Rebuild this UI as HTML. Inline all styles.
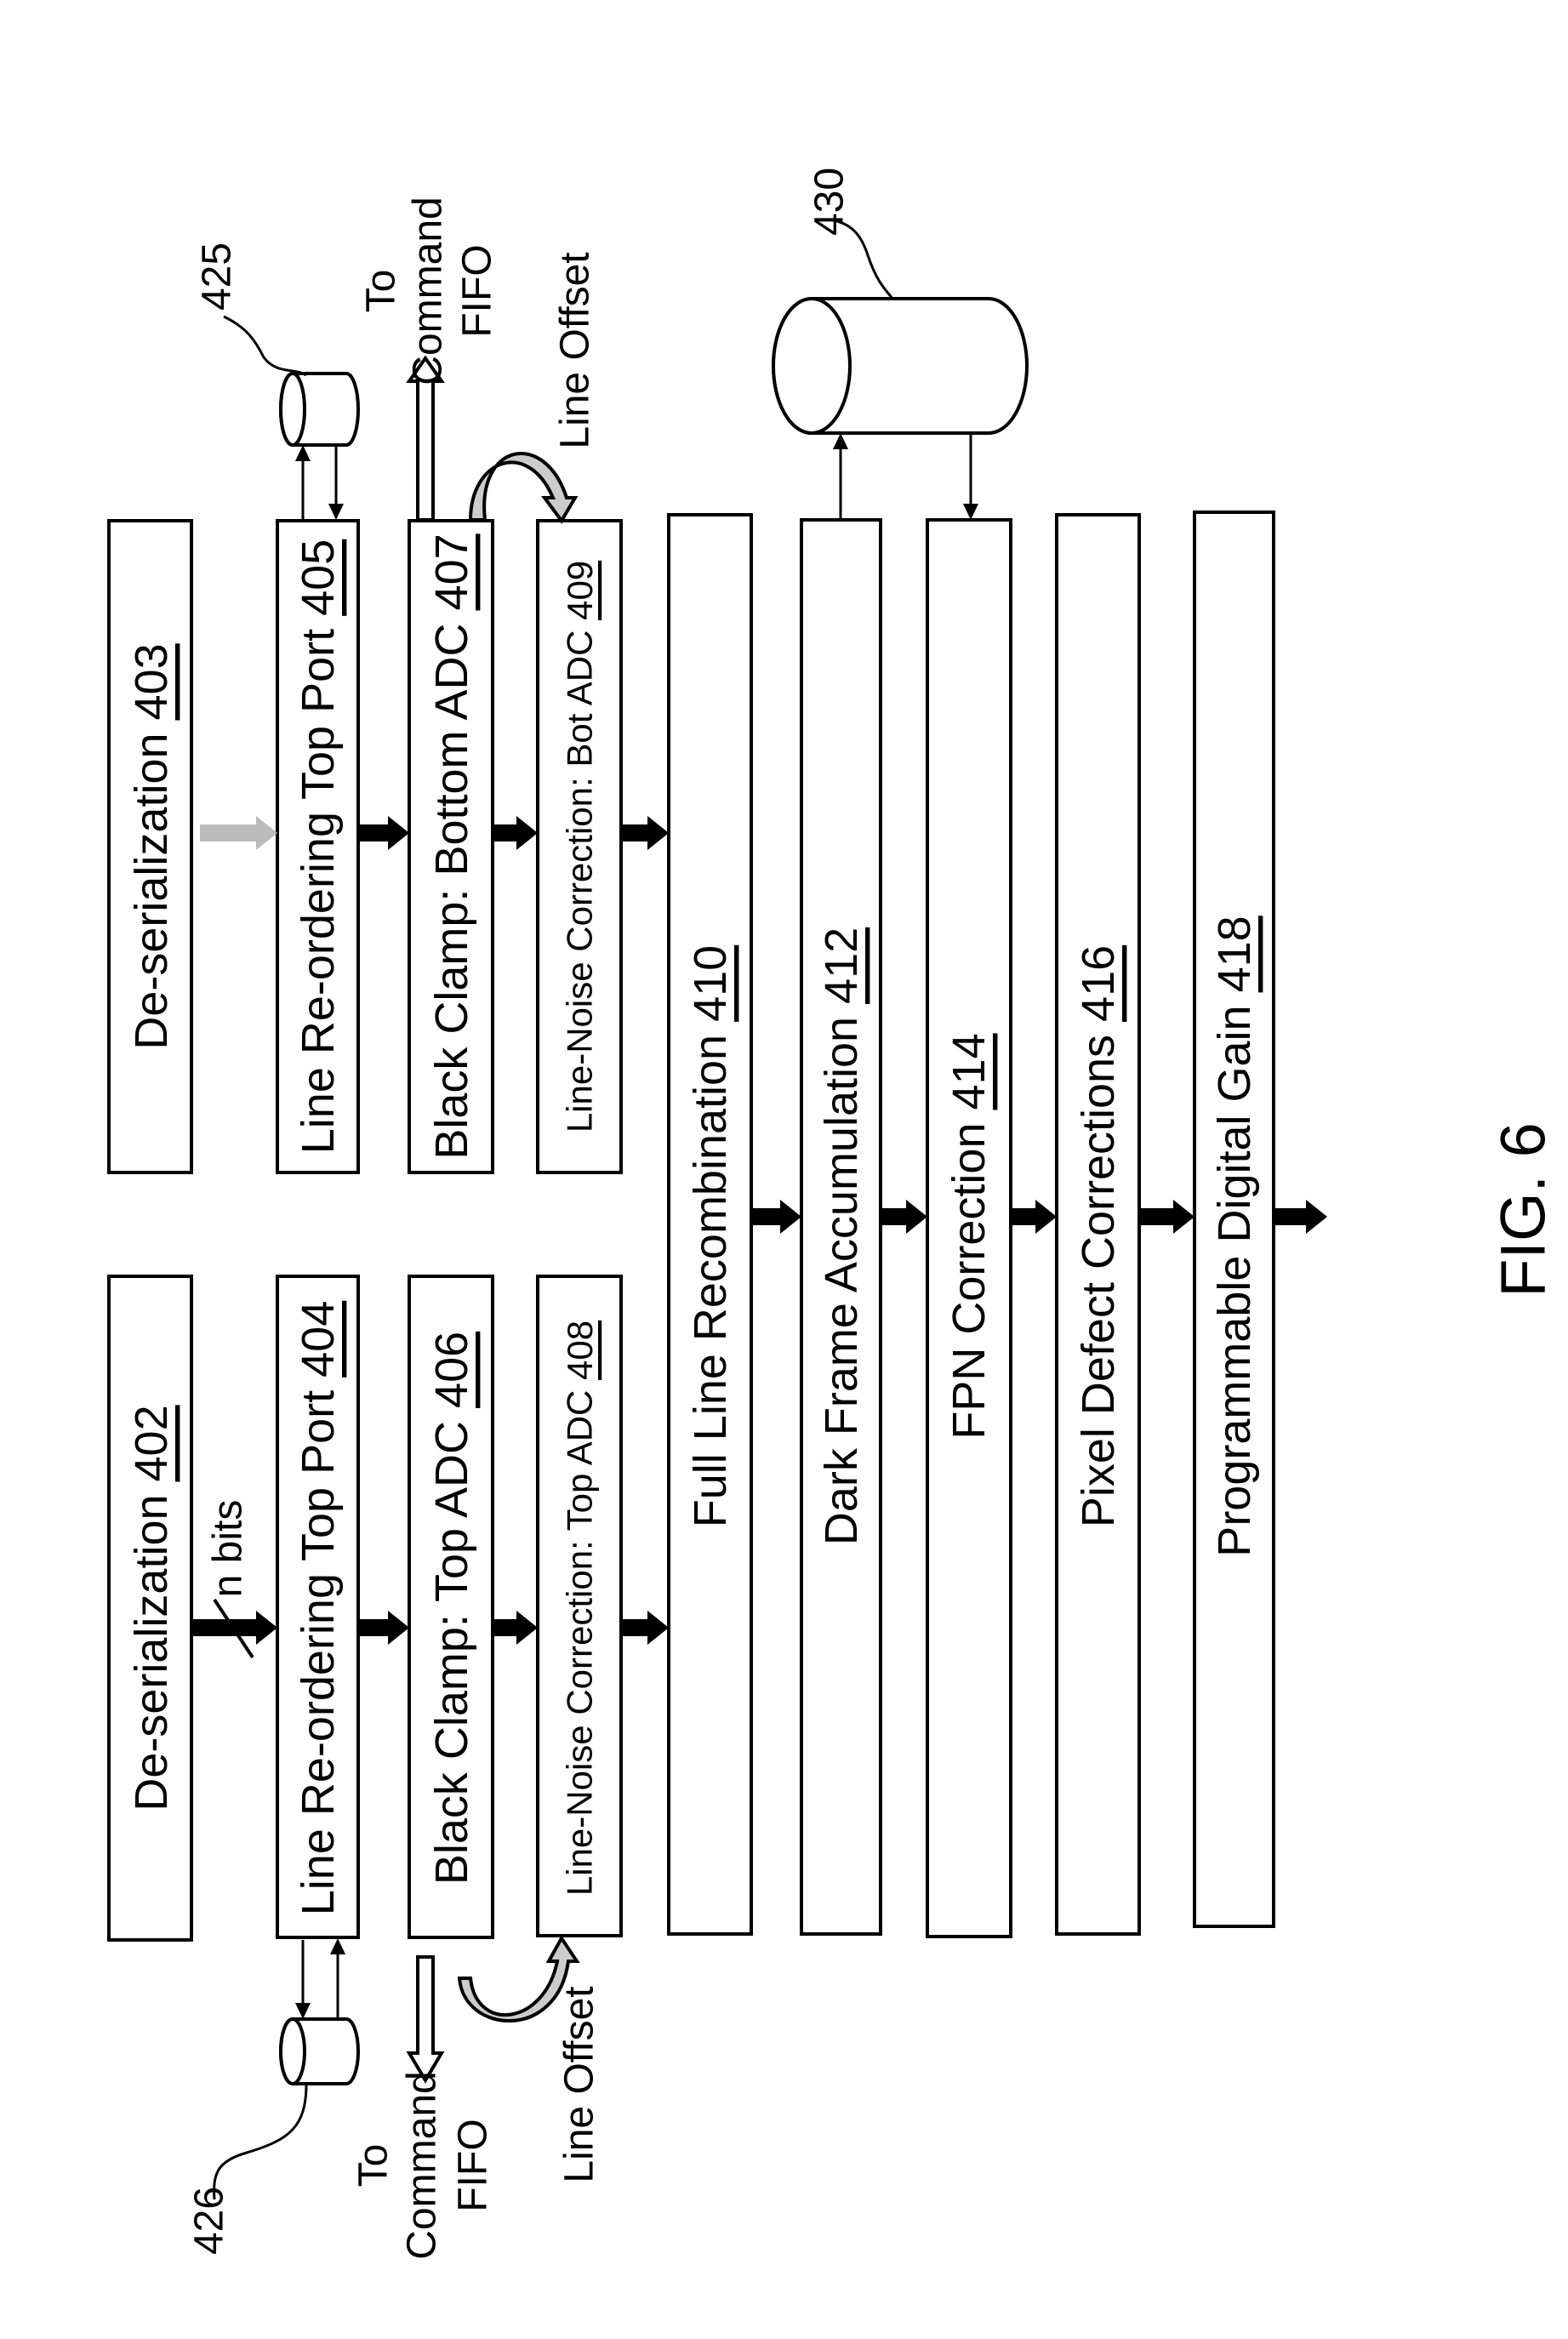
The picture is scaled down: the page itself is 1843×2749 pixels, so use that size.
<!DOCTYPE html>
<html><head><meta charset="utf-8"><style>
html,body{margin:0;padding:0;background:#fff;}
svg{display:block;}
text{font-family:"Liberation Sans",Arial,sans-serif;fill:#000;}
</style></head><body>
<svg width="1843" height="2749" viewBox="0 0 1843 2749" xmlns="http://www.w3.org/2000/svg">
<defs>
<marker id="ah" markerWidth="8" markerHeight="8" refX="7" refY="4" orient="auto" markerUnits="userSpaceOnUse" viewBox="0 0 8 8">
</marker>
</defs>
<g fill="#fff" stroke="#000" stroke-width="4">
<!-- upper boxes -->
<rect x="128" y="612" width="97" height="766"/>
<rect x="326" y="612" width="95" height="766"/>
<rect x="481" y="612" width="98" height="766"/>
<rect x="632" y="612" width="98" height="766"/>
<!-- lower boxes -->
<rect x="128" y="1500" width="97" height="780"/>
<rect x="326" y="1500" width="95" height="777"/>
<rect x="481" y="1500" width="98" height="777"/>
<rect x="632" y="1500" width="98" height="775"/>
<!-- long columns -->
<rect x="786" y="605" width="97" height="1668"/>
<rect x="942" y="611" width="93" height="1662"/>
<rect x="1090" y="611" width="98" height="1665"/>
<rect x="1242" y="605" width="97" height="1668"/>
<rect x="1404" y="602" width="93" height="1662"/>
</g>

<!-- fat arrows -->
<g fill="#000">
<polygon points="421,969 456,969 456,959 481,979 456,999 456,989 421,989"/>
<polygon points="579,969 607,969 607,959 632,979 607,999 607,989 579,989"/>
<polygon points="730,969 761,969 761,959 786,979 761,999 761,989 730,989"/>
<polygon points="225,1903 301,1903 301,1893 326,1913 301,1933 301,1923 225,1923"/>
<polygon points="421,1903 456,1903 456,1893 481,1913 456,1933 456,1923 421,1923"/>
<polygon points="579,1903 607,1903 607,1893 632,1913 607,1933 607,1923 579,1923"/>
<polygon points="730,1903 761,1903 761,1893 786,1913 761,1933 761,1923 730,1923"/>
<polygon points="883,1420 917,1420 917,1410 942,1430 917,1450 917,1440 883,1440"/>
<polygon points="1035,1420 1065,1420 1065,1410 1090,1430 1065,1450 1065,1440 1035,1440"/>
<polygon points="1188,1420 1217,1420 1217,1410 1242,1430 1217,1450 1217,1440 1188,1440"/>
<polygon points="1339,1420 1379,1420 1379,1410 1404,1430 1379,1450 1379,1440 1339,1440"/>
<polygon points="1497,1420 1535,1420 1535,1410 1560,1430 1535,1450 1535,1440 1497,1440"/>
</g>
<polygon points="235,969 301,969 301,959 326,979 301,999 301,989 235,989" fill="#bbb"/>
<line x1="252" y1="1880" x2="297" y2="1948" stroke="#000" stroke-width="4"/>

<!-- cylinder 425 -->
<g fill="#fff" stroke="#000" stroke-width="4">
<path d="M344,439 L407,439 A14,42 0 0 1 407,523 L344,523 A14,42 0 0 1 344,439 Z"/>
<ellipse cx="344" cy="481" rx="14" ry="42"/>
<!-- cylinder 430 -->
<path d="M954,351 L1162,351 A45,79 0 0 1 1162,509 L954,509 A45,79 0 0 1 954,351 Z"/>
<ellipse cx="954" cy="430" rx="45" ry="79"/>
<!-- cylinder 426 -->
<path d="M344,2373 L407,2373 A14,38 0 0 1 407,2449 L344,2449 A14,38 0 0 1 344,2373 Z"/>
<ellipse cx="344" cy="2411" rx="14" ry="38"/>
</g>

<!-- thin arrows -->
<g stroke="#000" stroke-width="3" fill="none">
<line x1="356" y1="611" x2="356" y2="540"/>
<line x1="395" y1="525" x2="395" y2="595"/>
<line x1="988" y1="611" x2="988" y2="526"/>
<line x1="1141" y1="511" x2="1141" y2="595"/>
<line x1="356" y1="2280" x2="356" y2="2356"/>
<line x1="397" y1="2373" x2="397" y2="2295"/>
<!-- leaders -->
<path d="M263,372 C290,385 300,400 310,420 C325,440 345,432 360,441"/>
<path d="M975,258 C1000,262 1012,275 1020,300 C1030,330 1040,340 1050,352"/>
<path d="M252,2585 C250,2555 255,2540 290,2530 C340,2515 360,2500 360,2449"/>
</g>
<g fill="#000">
<polygon points="356,523 347,542 365,542"/>
<polygon points="395,611 386,592 404,592"/>
<polygon points="988,509 979,528 997,528"/>
<polygon points="1141,611 1132,592 1150,592"/>
<polygon points="356,2373 347,2354 365,2354"/>
<polygon points="397,2278 388,2297 406,2297"/>
</g>

<!-- hollow arrows -->
<g fill="#fff" stroke="#000" stroke-width="4">
<polygon points="491,611 491,448 481,448 500,421 519,448 509,448 509,611"/>
<polygon points="491,2300 491,2413 481,2413 500,2445 519,2413 509,2413 509,2300"/>
<!-- curved upper -->
<path d="M553,611 C553,540 620,515 650,585 L640,585 L660,612 L676,585 L666,585 C640,505 560,520 570,611 Z" fill="#ccc"/>
<!-- curved lower -->
<path d="M553,2325 C560,2390 640,2380 655,2305 L645,2305 L660,2278 L678,2305 L668,2305 C655,2400 545,2390 540,2325 Z" fill="#ccc"/>
</g>

<!-- column texts -->
<g font-size="54" text-anchor="middle" dominant-baseline="central">
<text transform="translate(178,995) rotate(-90)">De-serialization <tspan text-decoration="underline">403</tspan></text>
<text transform="translate(374,995) rotate(-90)">Line Re-ordering Top Port <tspan text-decoration="underline">405</tspan></text>
<text transform="translate(531,995) rotate(-90)">Black Clamp: Bottom ADC <tspan text-decoration="underline">407</tspan></text>
<text transform="translate(681,995) rotate(-90)" font-size="42">Line-Noise Correction: Bot ADC <tspan text-decoration="underline">409</tspan></text>
<text transform="translate(178,1890) rotate(-90)">De-serialization <tspan text-decoration="underline">402</tspan></text>
<text transform="translate(374,1890) rotate(-90)">Line Re-ordering Top Port <tspan text-decoration="underline">404</tspan></text>
<text transform="translate(531,1890) rotate(-90)">Black Clamp: Top ADC <tspan text-decoration="underline">406</tspan></text>
<text transform="translate(681,1890) rotate(-90)" font-size="42">Line-Noise Correction: Top ADC <tspan text-decoration="underline">408</tspan></text>
<text transform="translate(835,1453) rotate(-90)">Full Line Recombination <tspan text-decoration="underline">410</tspan></text>
<text transform="translate(989,1453) rotate(-90)">Dark Frame Accumulation <tspan text-decoration="underline">412</tspan></text>
<text transform="translate(1139,1453) rotate(-90)">FPN Correction <tspan text-decoration="underline">414</tspan></text>
<text transform="translate(1291,1453) rotate(-90)">Pixel Defect Corrections <tspan text-decoration="underline">416</tspan></text>
<text transform="translate(1451,1453) rotate(-90)">Programmable Digital Gain <tspan text-decoration="underline">418</tspan></text>
</g>

<!-- labels -->
<g font-size="48" text-anchor="middle" dominant-baseline="central">
<text transform="translate(255,325) rotate(-90)">425</text>
<text transform="translate(975,237) rotate(-90)">430</text>
<text transform="translate(246,2610) rotate(-90)">426</text>
<text transform="translate(448,342) rotate(-90)">To</text>
<text transform="translate(503,342) rotate(-90)">Command</text>
<text transform="translate(561,342) rotate(-90)">FIFO</text>
<text transform="translate(676,412) rotate(-90)">Line Offset</text>
<text transform="translate(439,2545) rotate(-90)">To</text>
<text transform="translate(496,2545) rotate(-90)">Command</text>
<text transform="translate(556,2545) rotate(-90)">FIFO</text>
<text transform="translate(681,2450) rotate(-90)">Line Offset</text>
<text transform="translate(268,1820) rotate(-90)">n bits</text>
<text transform="translate(1790,1422) rotate(-90)" font-size="74">FIG. 6</text>
</g>
</svg>
</body></html>
